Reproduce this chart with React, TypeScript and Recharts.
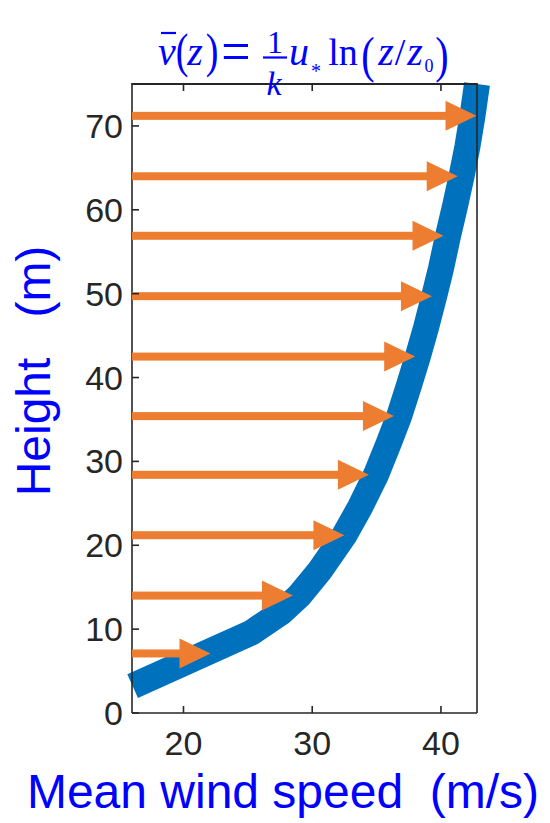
import React from 'react';
import { LineChart, Line, XAxis, YAxis } from 'recharts';

// ---- data ----
const arrowHeights = [7.1, 14.0, 21.2, 28.4, 35.4, 42.5, 49.7, 56.9, 64.0, 71.2];
const arrowTips = [22.1, 28.5, 32.5, 34.4, 36.35, 38.0, 39.3, 40.2, 41.3, 42.76];
const profileHeights = [3.2, 9.6, 12.0, 14.0, 17.0, 21.2, 24.5, 28.4, 32.0, 35.4, 39.0, 42.5, 46.0, 49.7, 53.0, 56.9, 60.5, 64.0, 67.5, 71.2, 75.0];
const profileSpeeds = [16.05, 25.3, 27.6, 29.0, 30.6, 32.5, 33.7, 34.95, 35.9, 36.75, 37.5, 38.2, 38.85, 39.47, 40.0, 40.55, 41.1, 41.6, 42.05, 42.45, 42.8];
const xTicks = [20, 30, 40];
const yTicks = [0, 10, 20, 30, 40, 50, 60, 70];
const xDomain: [number, number] = [16, 42.8];
const yDomain: [number, number] = [0, 75];
const xTitle = 'Mean wind speed\u00a0\u00a0(m/s)';
const yTitle = 'Height\u00a0\u00a0\u00a0(m)';

const profileData = profileHeights.map((z, i) => ({ v: profileSpeeds[i], z }));
const arrowData = arrowHeights.map((z, i) => [
  { v: xDomain[0], z },
  { v: arrowTips[i], z },
]);

// ---- layout / styles ----
const W = 550;
const H = 823;
const MARGIN = { top: 84, right: 72, bottom: 60, left: 72 };
const Y_AXIS_W = 60;
const RIGHT_AXIS_W = 1;
const PLOT_LEFT = MARGIN.left + Y_AXIS_W;
const PLOT_RIGHT = W - MARGIN.right - RIGHT_AXIS_W;
const PLOT_TOP = MARGIN.top;

const AXIS = '#262626';
const BLUE = '#0072BD';
const ORANGE = '#ED7D31';
const TITLE_BLUE = '#0000FF';
const SANS = "Arial, 'Liberation Sans', Helvetica, sans-serif";
const SERIF = "'Times New Roman', 'Liberation Serif', serif";
const TICK_LEN = 7;

const BottomTick = (props: any) => {
  const { x, y, payload } = props;
  return (
    <g>
      <line x1={x} x2={x} y1={y} y2={y - TICK_LEN} stroke={AXIS} strokeWidth={1.6} />
      <text x={x} y={y + 42} textAnchor="middle" fontFamily={SANS} fontSize={34} fill={AXIS}>
        {payload.value}
      </text>
    </g>
  );
};

const LeftTick = (props: any) => {
  const { x, y, payload } = props;
  return (
    <g>
      <line x1={x} x2={x + TICK_LEN} y1={y} y2={y} stroke={AXIS} strokeWidth={1.6} />
      <text x={x - 9} y={y + 12} textAnchor="end" fontFamily={SANS} fontSize={34} fill={AXIS}>
        {payload.value}
      </text>
    </g>
  );
};

const RightTick = (props: any) => {
  const { x, y } = props;
  return <line x1={x} x2={x - TICK_LEN} y1={y} y2={y} stroke={AXIS} strokeWidth={1.6} />;
};

const ArrowDot = (props: any) => {
  const { cx, cy, index, points } = props;
  if (index !== 1 || cx == null || cy == null) return <g key={`d-${index}`} />;
  const startX = points && points[0] ? points[0].x : cx - 100;
  const headLen = 31;
  const halfH = 15;
  const shaftH = 4;
  return (
    <g key={`d-${index}`}>
      <rect x={startX} y={cy - shaftH} width={cx - headLen - startX + 1} height={shaftH * 2} fill={ORANGE} />
      <polygon
        points={`${cx},${cy} ${cx - headLen},${cy - halfH} ${cx - headLen},${cy + halfH}`}
        fill={ORANGE}
      />
    </g>
  );
};

// top edge of the axes box (mirrors the bottom axis)
const TopBox = () => {
  const toX = (t: number) =>
    PLOT_LEFT + ((t - xDomain[0]) / (xDomain[1] - xDomain[0])) * (PLOT_RIGHT - PLOT_LEFT);
  return (
    <g>
      <rect x={PLOT_LEFT - 0.8} y={PLOT_TOP - 1} width={PLOT_RIGHT - PLOT_LEFT + 1.6} height={2} fill={AXIS} />
      {xTicks.map((t) => (
        <rect key={t} x={toX(t) - 0.8} y={PLOT_TOP} width={1.6} height={TICK_LEN} fill={AXIS} />
      ))}
    </g>
  );
};

const Formula = () => {
  const it = { fontFamily: SERIF, fontStyle: 'italic' as const, fill: TITLE_BLUE };
  const rm = { fontFamily: SERIF, fill: TITLE_BLUE };
  return (
    <g>
      <line x1={161} x2={176} y1={33} y2={33} stroke={TITLE_BLUE} strokeWidth={2.2} />
      <text x={167} y={65} fontSize={40} textAnchor="middle" {...it}>v</text>
      <text transform="translate(182,67) scale(1,1.3)" fontSize={38} textAnchor="middle" {...rm}>(</text>
      <text x={195} y={65} fontSize={40} textAnchor="middle" {...it}>z</text>
      <text transform="translate(212,67) scale(1,1.3)" fontSize={38} textAnchor="middle" {...rm}>)</text>
      <text transform="translate(236,71) scale(1.3,1.5)" fontSize={40} textAnchor="middle" {...rm}>=</text>
      <text x={275} y={53} fontSize={32} textAnchor="middle" {...rm}>1</text>
      <line x1={263} x2={287} y1={57.5} y2={57.5} stroke={TITLE_BLUE} strokeWidth={2.2} />
      <text x={274} y={95} fontSize={34} textAnchor="middle" {...it}>k</text>
      <text x={299} y={65} fontSize={40} textAnchor="middle" {...it}>u</text>
      <text x={316} y={78} fontSize={20} textAnchor="middle" {...rm}>*</text>
      <text x={343} y={65} fontSize={38} textAnchor="middle" {...rm}>ln</text>
      <text transform="translate(368,72) scale(1,1.25)" fontSize={40} textAnchor="middle" {...rm}>(</text>
      <text x={386} y={65} fontSize={40} textAnchor="middle" {...it}>z</text>
      <text x={400} y={65} fontSize={38} textAnchor="middle" {...rm}>/</text>
      <text x={415} y={65} fontSize={40} textAnchor="middle" {...it}>z</text>
      <text x={429} y={72} fontSize={18} textAnchor="middle" {...rm}>0</text>
      <text transform="translate(442,72) scale(1,1.25)" fontSize={40} textAnchor="middle" {...rm}>)</text>
    </g>
  );
};

export default function App() {
  return (
    <div style={{ position: 'absolute', left: 0, top: 0, width: W, height: H, background: '#fff' }}>
      <LineChart width={W} height={H} margin={MARGIN}>
        <XAxis
          xAxisId={0}
          dataKey="v"
          type="number"
          domain={xDomain}
          ticks={xTicks}
          orientation="bottom"
          height={50}
          tickSize={0}
          tickMargin={0}
          tickLine={false}
          axisLine={{ stroke: AXIS, strokeWidth: 1.6 }}
          tick={<BottomTick />}
          interval={0}
        />
        <YAxis
          yAxisId={0}
          type="number"
          domain={yDomain}
          ticks={yTicks}
          orientation="left"
          width={Y_AXIS_W}
          tickSize={0}
          tickMargin={0}
          tickLine={false}
          axisLine={{ stroke: AXIS, strokeWidth: 1.6 }}
          tick={<LeftTick />}
          interval={0}
        />
        <YAxis
          yAxisId={1}
          type="number"
          domain={yDomain}
          ticks={yTicks}
          orientation="right"
          width={RIGHT_AXIS_W}
          tickSize={0}
          tickMargin={0}
          tickLine={false}
          axisLine={{ stroke: AXIS, strokeWidth: 1.6 }}
          tick={<RightTick />}
          interval={0}
        />
        <Line
          data={profileData}
          dataKey="z"
          type="linear"
          stroke={BLUE}
          strokeWidth={26}
          dot={false}
          isAnimationActive={false}
        />
        {arrowData.map((d, i) => (
          <Line
            key={`arrow-${i}`}
            data={d}
            dataKey="z"
            type="linear"
            stroke="none"
            strokeWidth={0}
            dot={<ArrowDot />}
            activeDot={false}
            isAnimationActive={false}
          />
        ))}
      </LineChart>
      <svg
        width={W}
        height={H}
        style={{ position: 'absolute', left: 0, top: 0, pointerEvents: 'none' }}
      >
        <TopBox />
        <Formula />
        <text x={283} y={808} textAnchor="middle" fontFamily={SANS} fontSize={48} fill={TITLE_BLUE}>
          {xTitle}
        </text>
        <text
          transform="translate(50,371) rotate(-90)"
          textAnchor="middle"
          fontFamily={SANS}
          fontSize={48}
          fill={TITLE_BLUE}
        >
          {yTitle}
        </text>
      </svg>
    </div>
  );
}
